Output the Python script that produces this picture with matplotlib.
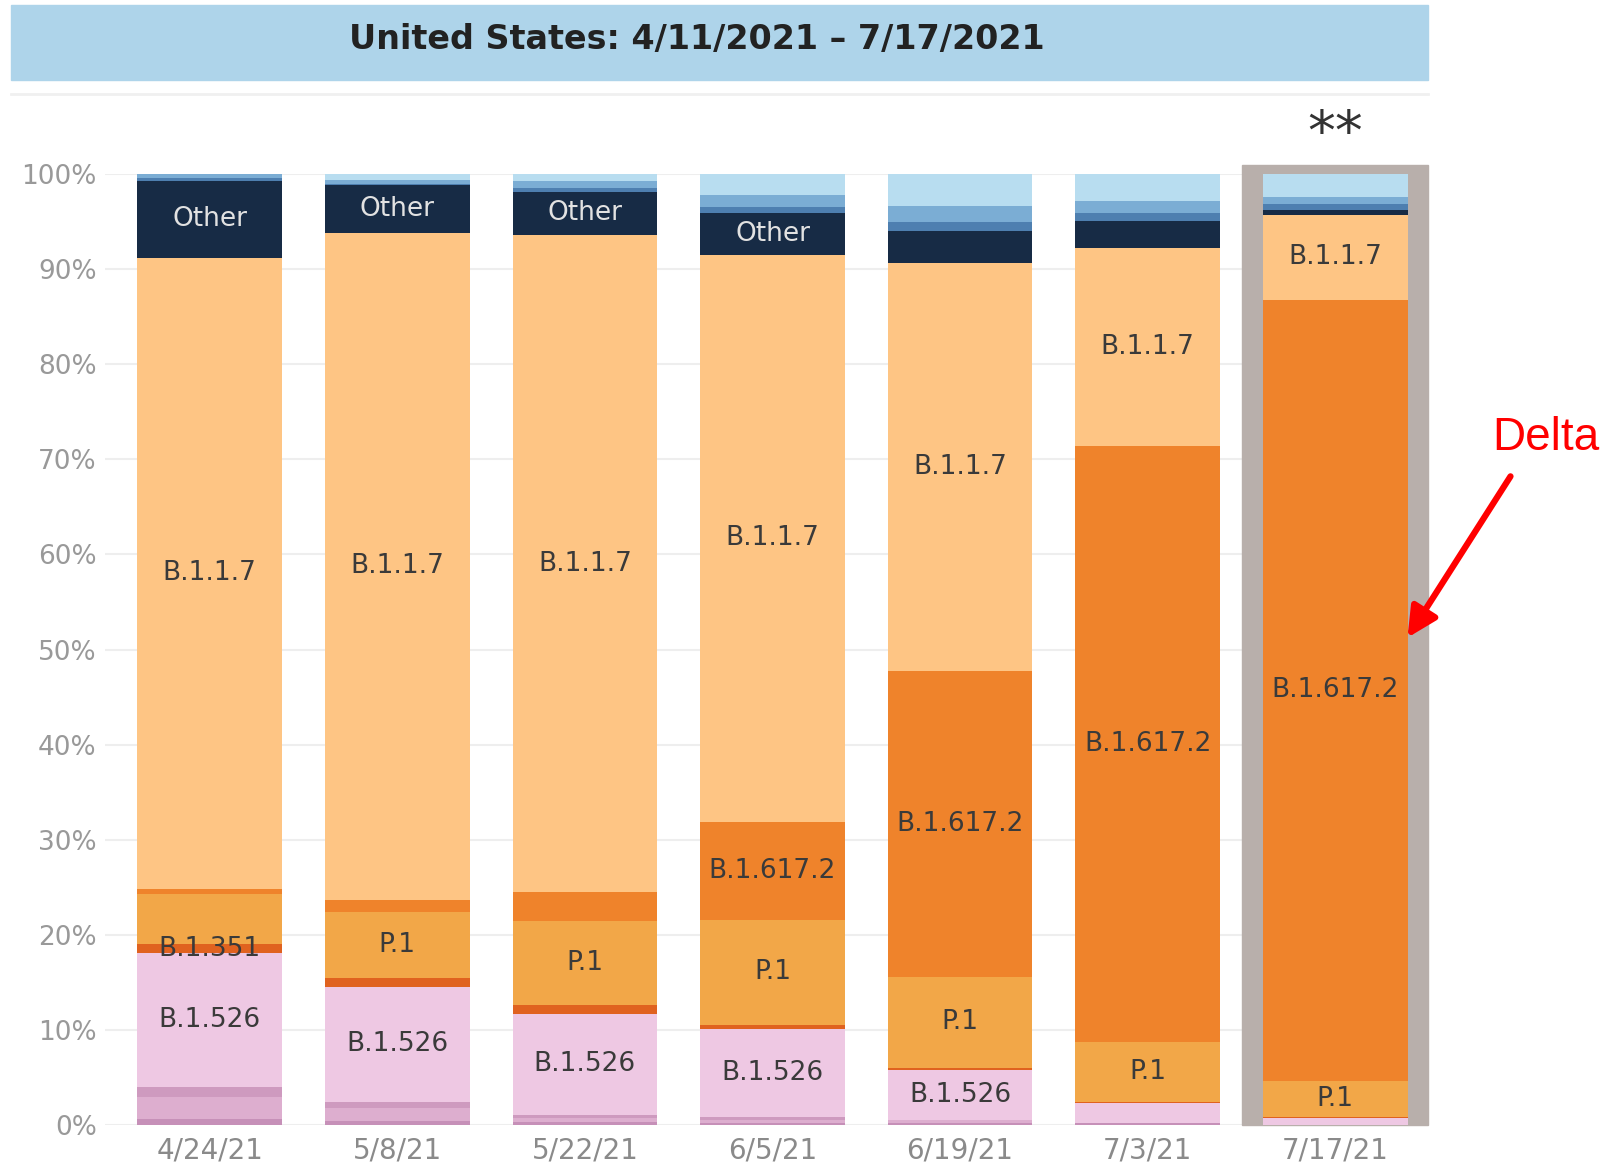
import matplotlib.pyplot as plt
from matplotlib.patches import Rectangle, FancyArrowPatch
import numpy as np

dates = ['4/24/21', '5/8/21', '5/22/21', '6/5/21', '6/19/21', '7/3/21', '7/17/21']

# share of sequences (%) per lineage, bottom of the stack first
b1427 = [0.6, 0.45, 0.3, 0.2, 0.25, 0.2, 0.0]
b1429 = [2.3, 1.3, 0.4, 0.3, 0.25, 0.0, 0.0]
b15261 = [1.05, 0.7, 0.4, 0.3, 0.0, 0.0, 0.0]
b1526 = [14.1, 12.1, 10.6, 9.3, 5.3, 2.1, 0.7]
b1351 = [0.95, 0.95, 0.95, 0.4, 0.2, 0.15, 0.1]
p1 = [5.3, 6.9, 8.8, 11.1, 9.6, 6.3, 3.8]
b16172 = [0.5, 1.3, 3.0, 10.3, 32.1, 62.7, 82.2]
b117 = [66.4, 70.1, 69.15, 59.6, 42.9, 20.8, 8.9]
other = [8.1, 5.0, 4.5, 4.35, 3.4, 2.8, 0.56]
p2 = [0.3, 0.2, 0.4, 0.7, 0.95, 0.8, 0.6]
b1525 = [0.4, 0.4, 0.77, 1.2, 1.7, 1.3, 0.73]
b1621 = [0.0, 0.6, 0.7, 2.25, 3.35, 2.85, 2.4]

series = [
    ('B.1.427', b1427, '#c690b8'),
    ('B.1.429', b1429, '#ddaecf'),
    ('B.1.526.1', b15261, '#ce9abf'),
    ('B.1.526', b1526, '#eec8e3'),
    ('B.1.351', b1351, '#e0621f'),
    ('P.1', p1, '#f2a748'),
    ('B.1.617.2', b16172, '#ef832b'),
    ('B.1.1.7', b117, '#fec584'),
    ('Other', other, '#172b45'),
    ('P.2', p2, '#4e7fb0'),
    ('B.1.525', b1525, '#7badd4'),
    ('B.1.621', b1621, '#b8ddf0'),
]

# which bars carry an in-segment label
labelled = {
    'Other': [0, 1, 2, 3],
    'B.1.1.7': [0, 1, 2, 3, 4, 5, 6],
    'B.1.617.2': [3, 4, 5, 6],
    'P.1': [1, 2, 3, 4, 5, 6],
    'B.1.351': [0],
    'B.1.526': [0, 1, 2, 3, 4],
}

fig = plt.figure(figsize=(16.04, 11.66), dpi=100)
ax = fig.add_axes([105 / 1604, 1 - 1125 / 1166, 1323 / 1604, 951 / 1166])

x = np.arange(len(dates))
width = 0.77

# highlight frame behind the latest (nowcast) bar
ax.add_patch(Rectangle((6 - 0.495, 0), 0.99, 100.9, color='#b8afab',
                       zorder=1, clip_on=False))

bottom = np.zeros(len(dates))
for name, vals, color in series:
    vals = np.array(vals)
    ax.bar(x, vals, width, bottom=bottom, color=color, zorder=2)
    for i in labelled.get(name, []):
        tc = '#e2e2e2' if name == 'Other' else '#3a3a3a'
        ax.text(x[i], bottom[i] + vals[i] / 2, name, ha='center', va='center',
                fontsize=19, color=tc, zorder=3)
    bottom += vals

ax.set_xlim(-0.558, 6.494)
ax.set_ylim(0, 100)
ax.set_yticks(range(0, 101, 10))
ax.set_yticklabels([f'{v}%' for v in range(0, 101, 10)])
ax.set_xticks(x)
ax.set_xticklabels(dates)
ax.tick_params(axis='y', length=0, pad=6, labelsize=19, labelcolor='#999999')
ax.tick_params(axis='x', length=0, pad=8, labelsize=20, labelcolor='#8a8a8a')
ax.grid(axis='y', color='#eeeeee', linewidth=1.5, zorder=0)
ax.set_axisbelow(True)
for s in ax.spines.values():
    s.set_visible(False)

# title band
fig.patches.append(Rectangle((11 / 1604, 1 - 80 / 1166), 1417 / 1604, 75 / 1166,
                             transform=fig.transFigure, color='#aed4ea', zorder=0))
fig.text(697 / 1604, 1 - 40 / 1166, 'United States: 4/11/2021 \u2013 7/17/2021',
         ha='center', va='center', fontsize=24, fontweight='bold',
         family='DejaVu Sans', color='#222222')
fig.lines.append(plt.Line2D([11 / 1604, 1428 / 1604], [1 - 94 / 1166] * 2,
                            transform=fig.transFigure, color='#f0f0f0', linewidth=2))

fig.text(1335 / 1604, 1 - 135 / 1166, '**', ha='center', va='center',
         fontsize=40, color='#333333')

# Delta callout
fig.text(1492 / 1604, 1 - 438 / 1166, 'Delta', ha='left', va='center',
         fontsize=33, color='#ff0000', family='Liberation Sans')
fig.patches.append(FancyArrowPatch((1512 / 1604, 1 - 474 / 1166), (1406 / 1604, 1 - 640 / 1166),
                                   transform=fig.transFigure, arrowstyle='-|>',
                                   mutation_scale=45, color='#ff0000', linewidth=4.5))

fig.savefig('out.png', dpi=100)
